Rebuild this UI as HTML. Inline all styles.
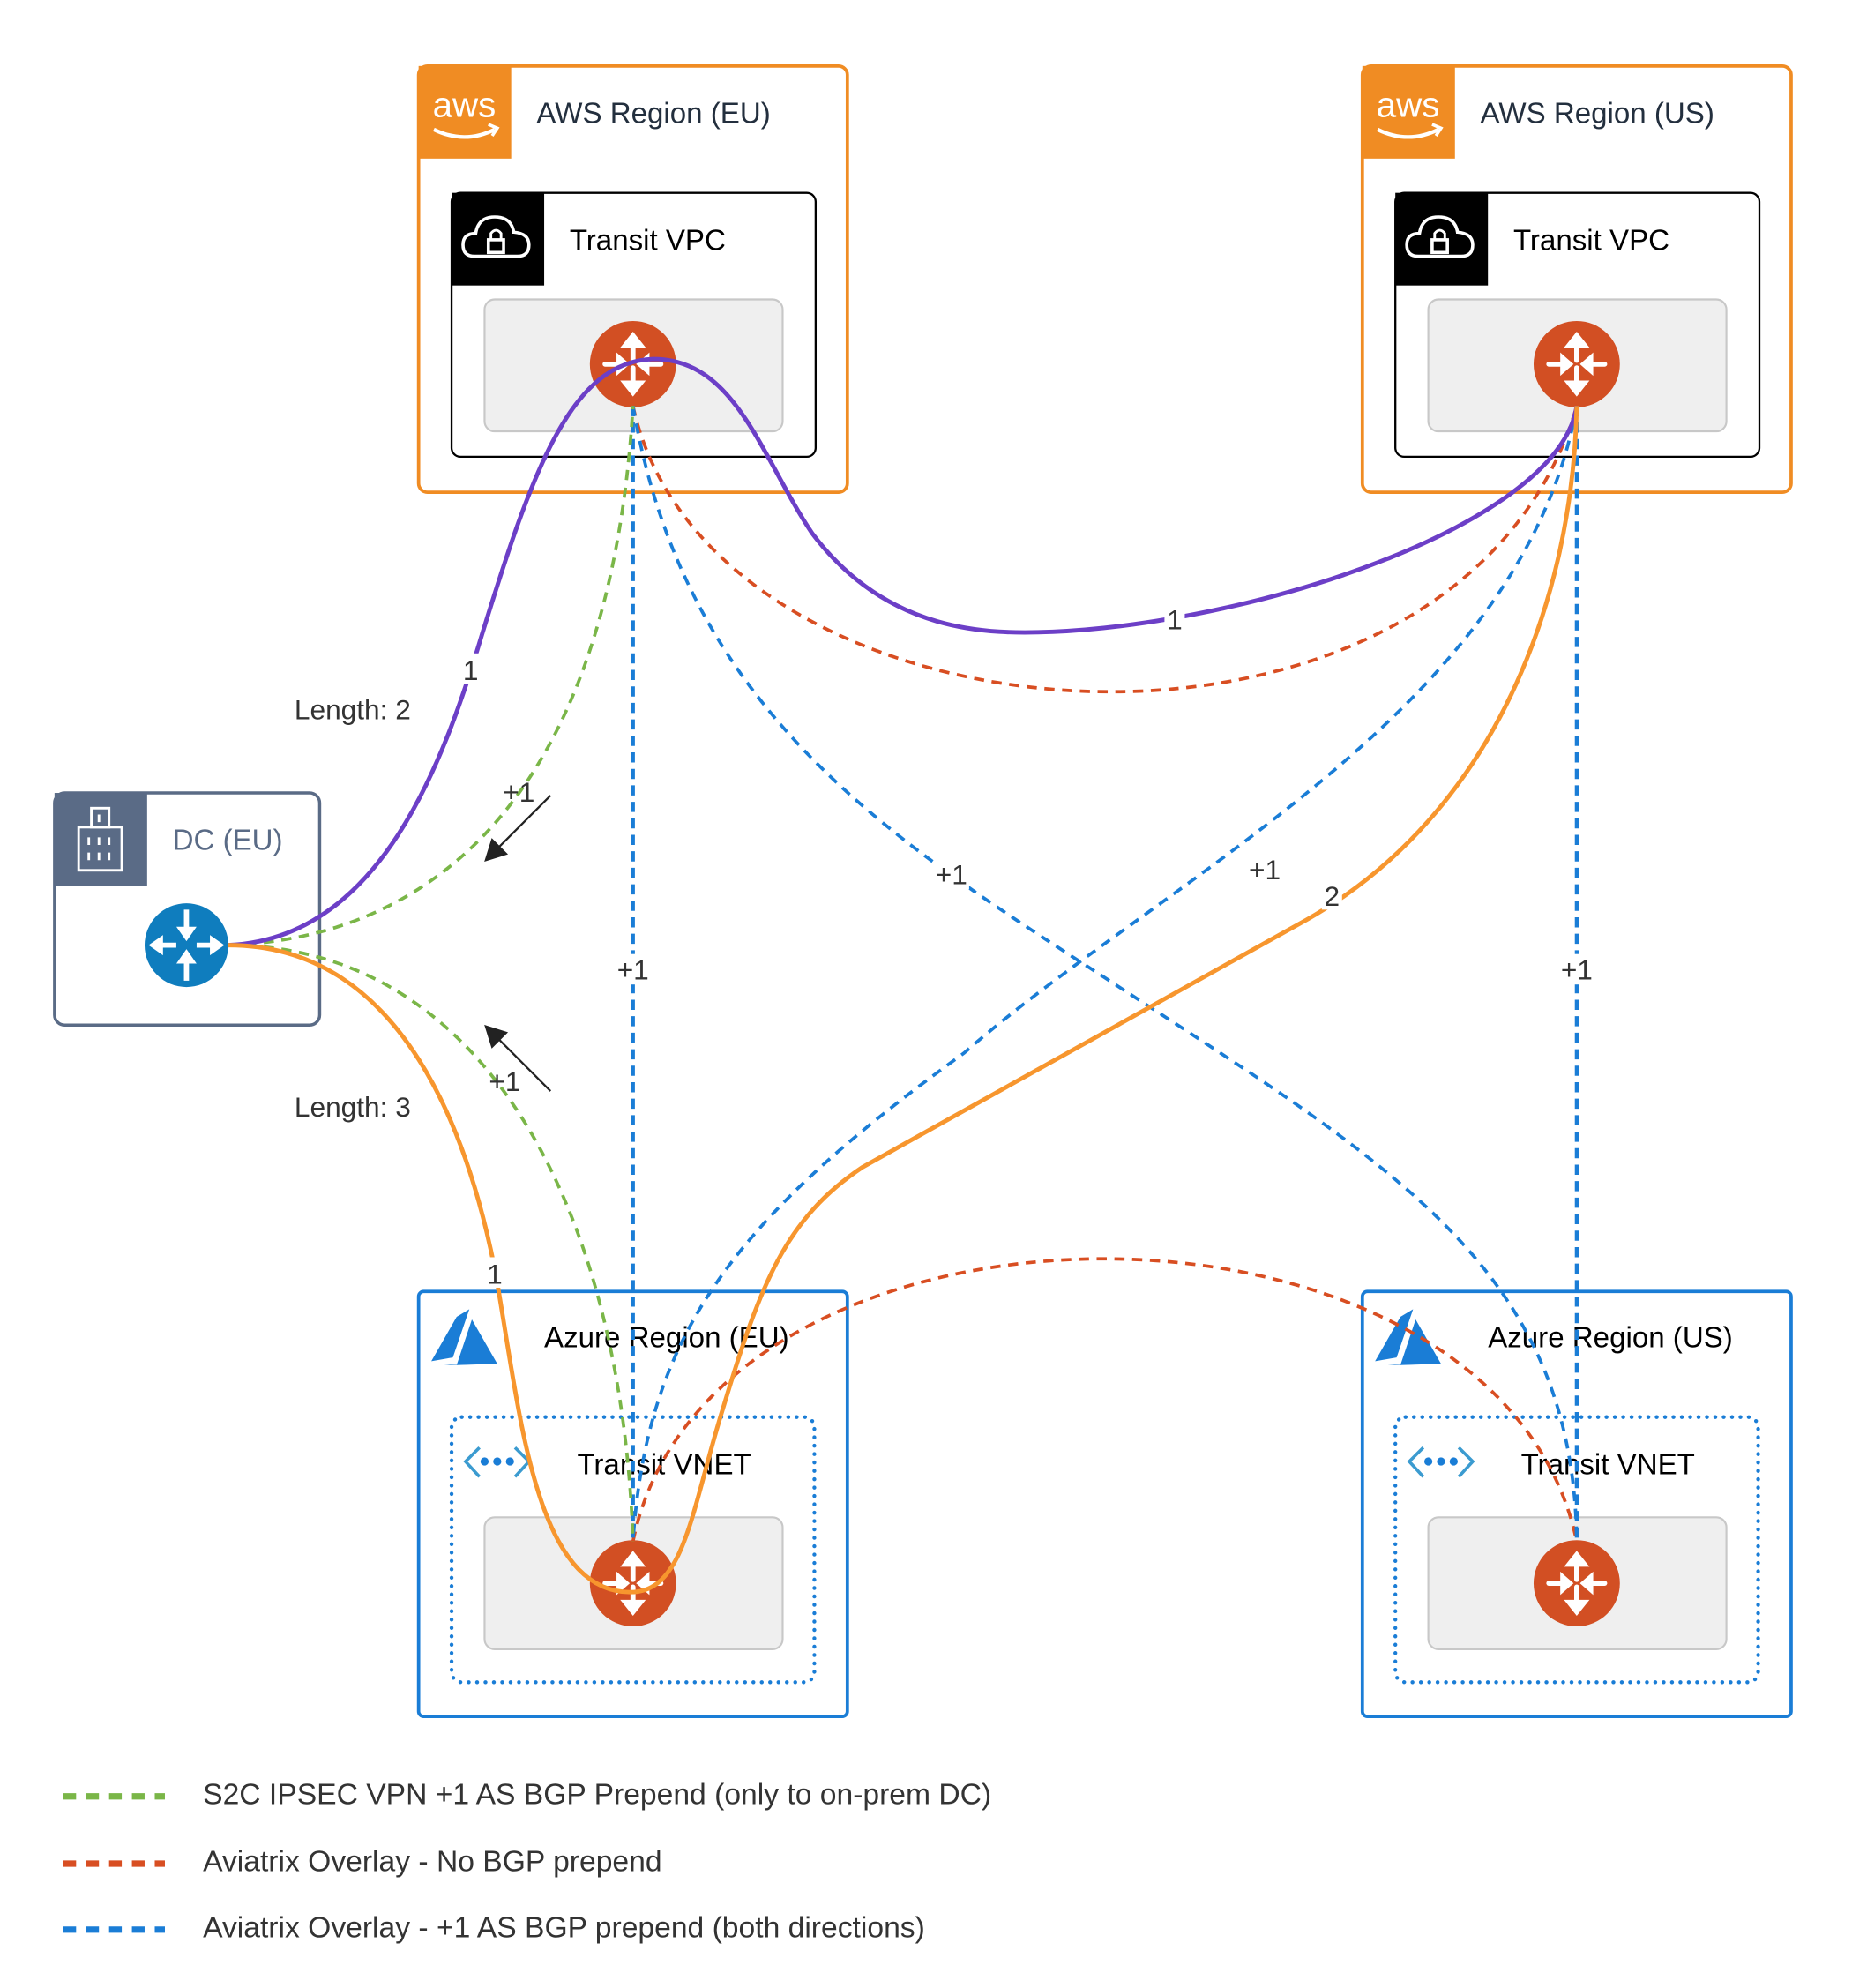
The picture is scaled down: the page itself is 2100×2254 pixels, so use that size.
<!DOCTYPE html>
<html><head><meta charset="utf-8"><style>html,body{margin:0;padding:0;background:#fff}svg{display:block}</style></head>
<body>
<svg width="2100" height="2254" viewBox="0 0 1460 1567" xmlns="http://www.w3.org/2000/svg" font-family="Liberation Sans, sans-serif">
<defs>
<g id="rt">
  <circle r="34" fill="#D24F23"/>
  <g fill="#fff" stroke="#fff" stroke-width="4" stroke-linecap="round">
    <line x1="0" y1="-3" x2="0" y2="-18"/><path d="M-8,-14 L0,-24 L8,-14Z" stroke-width="2"/>
    <line x1="0" y1="3" x2="0" y2="18"/><path d="M-8,14 L0,24 L8,14Z" stroke-width="2"/>
    <line x1="-22" y1="0" x2="-10" y2="0"/><path d="M-12,-7 L-4,0 L-12,7Z" stroke-width="2"/>
    <line x1="22" y1="0" x2="10" y2="0"/><path d="M12,-7 L4,0 L12,7Z" stroke-width="2"/>
  </g>
</g>
<g id="awsreg">
  <rect x="0" y="0" width="338" height="336" rx="7" fill="#fff" stroke="#F08C23" stroke-width="2.6"/>
  <rect x="0" y="0" width="73" height="73" fill="#F08C23"/>
  <text x="36" y="40" text-anchor="middle" fill="#fff" font-size="28">aws</text>
  <path d="M12,50 Q36,62 60,50" fill="none" stroke="#fff" stroke-width="3"/>
  <path d="M55,46 L62,49 L58,55" fill="none" stroke="#fff" stroke-width="2.5"/>
  <rect x="26" y="100" width="287" height="208" rx="7" fill="#fff" stroke="#000" stroke-width="1.6"/>
  <rect x="26" y="100" width="73" height="73" fill="#000"/>
  <path d="M44,150 Q35,150 35,141 Q35,132 45,132 Q47,119 60,119 Q73,119 75,131 Q87,132 87,141 Q87,150 78,150 Z" fill="none" stroke="#fff" stroke-width="2.5"/>
  <rect x="55" y="137" width="12" height="10" fill="none" stroke="#fff" stroke-width="2.5"/>
  <path d="M57,137 V132 Q61,127 65,132 V137" fill="none" stroke="#fff" stroke-width="2"/>
  <rect x="52" y="184" width="235" height="104" rx="8" fill="#EFEFEF" stroke="#C8C8C8" stroke-width="1.5"/>
</g>
<g id="azreg">
  <rect x="0" y="0" width="338" height="335" rx="4" fill="#fff" stroke="#1A7DD6" stroke-width="2.6"/>
  <path d="M10,55 L30,20 L40,14 L27,52Z M30,58 L42,22 L62,57Z" fill="#1A7DD6"/>
  <path d="M20,58 L52,55 L62,57Z" fill="#1A7DD6"/>
  <rect x="26" y="99" width="286" height="209" rx="8" fill="none" stroke="#1A7DD6" stroke-width="3" stroke-dasharray="0.1 6.5" stroke-linecap="round"/>
  <path d="M48,123 L37,134 L48,146 M76,123 L87,134 L76,146" fill="none" stroke="#3B9BD0" stroke-width="2.5"/>
  <circle cx="52" cy="134" r="3.2" fill="#1A7DD6"/><circle cx="62" cy="134" r="3.2" fill="#1A7DD6"/><circle cx="72" cy="134" r="3.2" fill="#1A7DD6"/>
  <rect x="52" y="178" width="235" height="104" rx="8" fill="#EFEFEF" stroke="#C8C8C8" stroke-width="1.5"/>
</g>
</defs>

<use href="#awsreg" x="330" y="52"/>
<use href="#awsreg" x="1074" y="52"/>
<use href="#azreg" x="330" y="1018"/>
<use href="#azreg" x="1074" y="1018"/>

<g font-size="23" fill="#232F3E">
<text x="423" y="97">AWS Region (EU)</text>
<text x="1167" y="97">AWS Region (US)</text>
<text x="449" y="197" fill="#000">Transit VPC</text>
<text x="1193" y="197" fill="#000">Transit VPC</text>
</g>

<rect x="43" y="625" width="209" height="183" rx="8" fill="#fff" stroke="#5A6B86" stroke-width="2.4"/>
<rect x="43" y="625" width="73" height="73" fill="#5A6B86"/>
<g fill="none" stroke="#fff" stroke-width="2"><rect x="62" y="652" width="34" height="34"/><rect x="72" y="637" width="14" height="15"/>
<path d="M70,660v6M78,660v6M86,660v6M70,672v6M78,672v6M86,672v6M78,642v6"/></g>
<text x="136" y="670" font-size="23" fill="#5A6B86">DC (EU)</text>
<g transform="translate(147,745)">
  <circle r="33" fill="#0F7DBE"/>
  <g fill="#fff" stroke="#fff" stroke-width="4">
    <line x1="0" y1="-28" x2="0" y2="-12"/><path d="M-7,-14 L0,-4 L7,-14Z" stroke-width="1"/>
    <line x1="0" y1="28" x2="0" y2="12"/><path d="M-7,14 L0,4 L7,14Z" stroke-width="1"/>
    <line x1="-8" y1="0" x2="-22" y2="0"/><path d="M-19,-7 L-29,0 L-19,7Z" stroke-width="1"/>
    <line x1="8" y1="0" x2="22" y2="0"/><path d="M19,-7 L29,0 L19,7Z" stroke-width="1"/>
  </g>
</g>

<use href="#rt" x="499" y="287"/>
<use href="#rt" x="1243" y="287"/>
<use href="#rt" x="499" y="1248"/>
<use href="#rt" x="1243" y="1248"/>

<g font-size="23" fill="#000">
<text x="429" y="1062">Azure Region (EU)</text>
<text x="1173" y="1062">Azure Region (US)</text>
<text x="455" y="1162">Transit VNET</text>
<text x="1199" y="1162">Transit VNET</text>
</g>

<g fill="none" stroke-width="2.6">
<path d="M499,320 C560,600 1150,640 1243,320" stroke="#D84E22" stroke-dasharray="8 6"/>
<path d="M499,1215 C560,918 1180,918 1243,1215" stroke="#D84E22" stroke-dasharray="8 6"/>
<path d="M499,320 V1215" stroke="#1A7DD6" stroke-dasharray="8 5" stroke-width="3"/>
<path d="M1243,320 V1215" stroke="#1A7DD6" stroke-dasharray="8 5" stroke-width="3"/>
<path d="M499,320 C540,560 700,660 870,770 C1100,920 1240,1000 1243,1215" stroke="#1A7DD6" stroke-dasharray="8 6"/>
<path d="M1243,320 C1200,560 920,690 760,830 C580,960 510,1050 499,1215" stroke="#1A7DD6" stroke-dasharray="8 6"/>
<path d="M180,745 C330,740 480,640 499,320" stroke="#7AB648" stroke-dasharray="8 6"/>
<path d="M180,745 C380,745 490,950 499,1215" stroke="#7AB648" stroke-dasharray="8 6"/>
<path d="M180,745 C300,740 350,600 380,500 C420,370 450,285 515,283 C580,283 600,360 640,420 C700,500 780,500 830,498 C1000,490 1230,410 1243,320" stroke="#6C3FC7" stroke-width="3.4"/>
<path d="M180,745 C320,745 370,900 390,1000 C410,1110 420,1255 497,1255 C540,1255 545,1190 570,1110 C600,1010 620,960 680,920 L1030,725 C1180,640 1240,470 1243,320" stroke="#F7962E" stroke-width="3.4"/>
</g>
<g stroke="#222" stroke-width="1.6" fill="#222">
<line x1="434" y1="627" x2="392" y2="669"/><path d="M383,678 L388,662 L399,673Z"/>
<line x1="434" y1="860" x2="392" y2="818"/><path d="M383,809 L399,814 L388,825Z"/>
</g>

<g font-size="22" fill="#333" text-anchor="middle">
<rect x="363" y="515" width="16" height="24" fill="#fff"/><text x="371" y="536">1</text>
<rect x="918" y="477" width="16" height="22" fill="#fff"/><text x="926" y="496">1</text>
<rect x="382" y="991" width="16" height="24" fill="#fff"/><text x="390" y="1012">1</text>
<rect x="1042" y="693" width="16" height="24" fill="#fff"/><text x="1050" y="714">2</text>
<text x="409" y="632">+1</text>
<text x="398" y="860">+1</text>
<rect x="485" y="752" width="28" height="24" fill="#fff"/><text x="499" y="772">+1</text>
<rect x="1229" y="752" width="28" height="24" fill="#fff"/><text x="1243" y="772">+1</text>
<rect x="736" y="677" width="28" height="24" fill="#fff"/><text x="750" y="697">+1</text>
<rect x="983" y="673" width="28" height="24" fill="#fff"/><text x="997" y="693">+1</text>
<text x="278" y="567">Length: 2</text>
<text x="278" y="880">Length: 3</text>
</g>

<g stroke-width="5" stroke-dasharray="10 8">
<line x1="50" y1="1416" x2="130" y2="1416" stroke="#7AB648"/>
<line x1="50" y1="1469" x2="130" y2="1469" stroke="#D84E22"/>
<line x1="50" y1="1521" x2="130" y2="1521" stroke="#1A7DD6"/>
</g>
<g font-size="23.4" fill="#333">
<text x="160" y="1422">S2C IPSEC VPN +1 AS BGP Prepend (only to on-prem DC)</text>
<text x="160" y="1475">Aviatrix Overlay - No BGP prepend</text>
<text x="160" y="1527">Aviatrix Overlay - +1 AS BGP prepend (both directions)</text>
</g>
</svg>
</body></html>
